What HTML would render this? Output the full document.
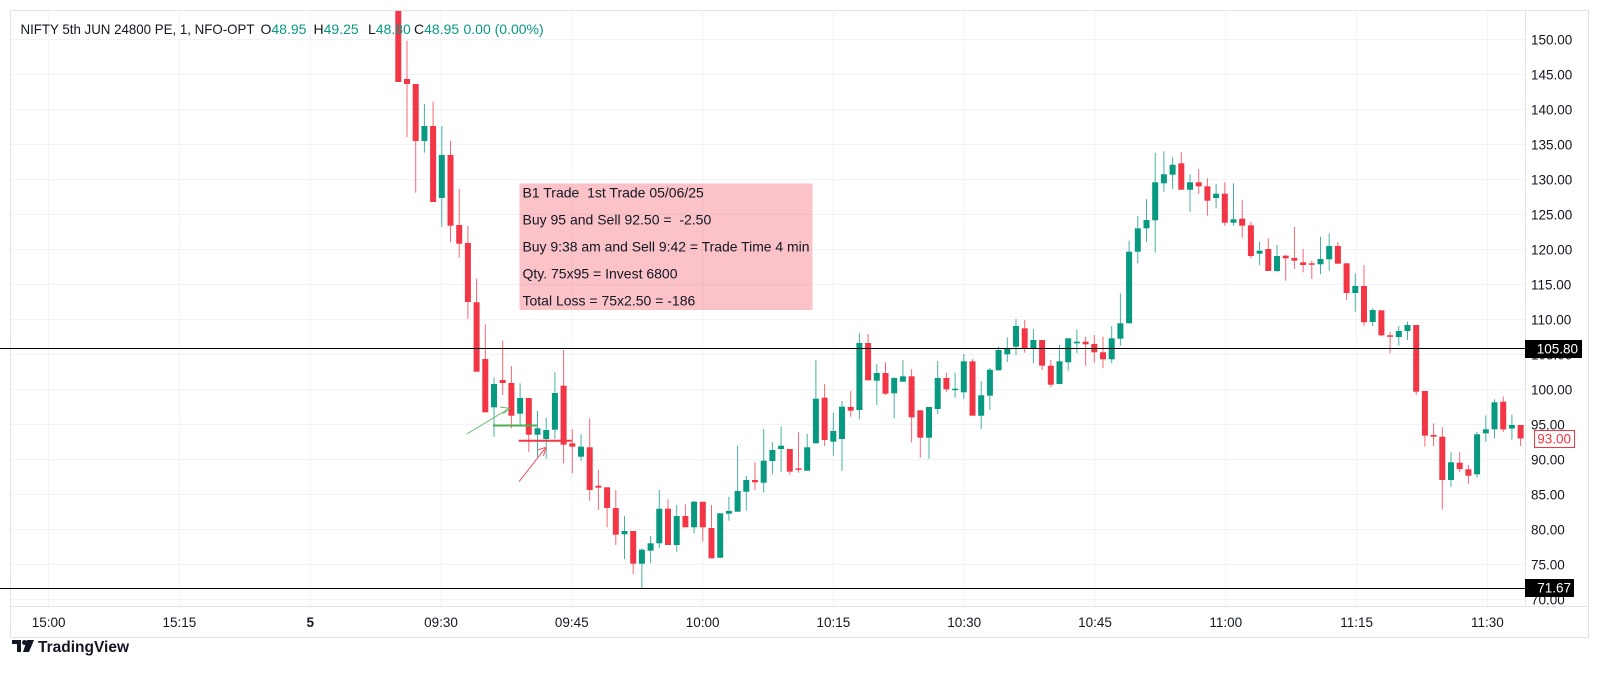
<!DOCTYPE html>
<html><head><meta charset="utf-8">
<style>
html,body{margin:0;padding:0;background:#fff;}
svg{display:block;font-family:"Liberation Sans",sans-serif;}
</style></head>
<body>
<svg id="s" width="1600" height="679" viewBox="0 0 1600 679" xmlns="http://www.w3.org/2000/svg">
<rect x="0" y="0" width="1600" height="679" fill="#fff"/>
<rect x="10.5" y="10.5" width="1578" height="627" fill="none" stroke="#e0e3eb"/>
<g id="grid"></g>
<line x1="1525.5" y1="11" x2="1525.5" y2="606" stroke="#e0e3eb"/>
<line x1="11" y1="606.5" x2="1588" y2="606.5" stroke="#e0e3eb"/>
<rect x="519.5" y="183.5" width="293" height="126.5" fill="#f23645" fill-opacity="0.3"/>
<g font-size="14" fill="#131722">
<text x="522.5" y="197.5">B1 Trade&#160; 1st Trade 05/06/25</text>
<text x="522.5" y="224.5">Buy 95 and Sell 92.50 =&#160; -2.50</text>
<text x="522.5" y="251.5" textLength="287" lengthAdjust="spacingAndGlyphs">Buy 9:38 am and Sell 9:42 = Trade Time 4 min</text>
<text x="522.5" y="278.5">Qty. 75x95 = Invest 6800</text>
<text x="522.5" y="305.5">Total Loss = 75x2.50 = -186</text>
</g>
<defs><clipPath id="cp"><rect x="11" y="11" width="1514" height="595"/></clipPath></defs>
<g id="candles" clip-path="url(#cp)"></g>
<g>
<line x1="466.7" y1="434" x2="509" y2="408.5" stroke="#66bb6a" stroke-width="1"/>
<polyline points="500,407 509.5,408.3 503,414" fill="none" stroke="#66bb6a" stroke-width="1"/>
<line x1="493" y1="425.5" x2="537" y2="425.5" stroke="#4caf50" stroke-width="2"/>
<line x1="519" y1="481.7" x2="545.5" y2="447.8" stroke="#f7525f" stroke-width="1"/>
<polyline points="537.5,450 546,447.3 543.5,456" fill="none" stroke="#f7525f" stroke-width="1"/>
<line x1="518.7" y1="440.7" x2="571.7" y2="440.7" stroke="#f23645" stroke-width="2"/>
</g>
<line x1="0" y1="348.5" x2="1525" y2="348.5" stroke="#000" stroke-width="1"/>
<line x1="0" y1="588.5" x2="1525" y2="588.5" stroke="#000" stroke-width="1"/>
<g id="axis" font-size="13.5" fill="#131722"></g>
<rect x="1525" y="340" width="57" height="18" fill="#000"/>
<text x="1578" y="353.5" font-size="13.5" fill="#fff" text-anchor="end">105.80</text>
<rect x="1525" y="579" width="49" height="18" fill="#000"/>
<text x="1571" y="592.5" font-size="13.5" fill="#fff" text-anchor="end">71.67</text>
<rect x="1534.5" y="430.5" width="40" height="17" fill="#fff" stroke="#f23645"/>
<text x="1571" y="443.5" font-size="13.5" fill="#f23645" text-anchor="end">93.00</text>
<g font-size="14" fill="#131722">
<text x="20.5" y="34" textLength="234" lengthAdjust="spacingAndGlyphs">NIFTY 5th JUN 24800 PE, 1, NFO-OPT</text>
<text x="260.5" y="34">O<tspan fill="#089981">48.95</tspan></text>
<text x="313.5" y="34">H<tspan fill="#089981">49.25</tspan></text>
<text x="368" y="34">L<tspan fill="#089981">48.80</tspan></text>
<text x="414" y="34">C<tspan fill="#089981">48.95</tspan></text>
<text x="463.5" y="34" fill="#089981">0.00 (0.00%)</text>
</g>
<g transform="translate(12,640)">
<path d="M0 0 H9 V12 H5 V4 H0 Z" fill="#131722"/>
<circle cx="12.5" cy="2.5" r="2.5" fill="#131722"/>
<path d="M15 0 H22 L17 12 H11 Z" fill="#131722"/>
</g>
<text x="38" y="652" font-size="15.5" fill="#131722" font-weight="bold">TradingView</text>
</svg>
<script>
(function(){
var D=[[5,82,0,82],[79,84,40.7,137],[84,141,84,192.7],[141,126,104,152.7],[126,202,101.7,202],[198,155,126,226.7],[155,225.7,141,242],[225,243.7,189,257.7],[243,302,226,319],[302.3,371.7,278.5,371.7],
[359,412.3,324.3,412.3],[407.3,384,377.3,436.7],[380,383,340.7,395],[383,415.7,366,428.3],[413.7,398,383.3,426],[398,434.7,398,452.3],[434.7,428.3,411,458.3],[439,430,417.7,458.7],[429.7,393,372.3,439],[385.7,444.7,350,463.3],
[443.3,446.7,429.3,473.3],[456.7,446.7,434.3,460.7],[447.3,490,418.3,500.7],[485.7,487.7,470,510],[487.3,508,487.3,527.3],[508,534.7,490,545],[534.3,531,516,559.3],[531,563.7,531,574],[563.7,549.7,548.3,588.3],[550.7,543.3,536,563.3],
[543.3,508.7,490,548.3],[508.7,545,499.3,545],[545,516,505,551.7],[516,527.3,504.3,527.3],[527.3,501.7,500.7,533.3],[501.7,527.3,501.7,541.7],[528,558.3,505,558.3],[557.7,513.3,513.3,557.7],[513.7,511,496.7,520.7],[511.7,491,445.7,511.7],
[491.7,480,476,510.7],[480,482.3,462.3,490],[482.7,460.7,429,492.7],[461,450,442.3,474.3],[449,445.7,426.7,472],[449,471.7,449,475],[468.3,469.3,432.3,472.7],[470.7,447.3,434,470.7],[443.3,398.7,360,443.3],[397.7,440,384,446],
[441.7,431,412.7,455.7],[439,406.7,401,471],[407,410.7,391,416.7],[410,343,333.3,419.3],[343,380.3,334,380.3],[380.7,373,364,405],[373,393.7,362.3,395],[393.3,378,377.3,418.3],[381.7,376.3,360,381.7],[376.3,417.3,369,442.3],
[410.3,437.7,410.3,457.7],[437.7,407,407,458.7],[409,378,361,414],[378,389.3,372.7,391.7],[389.3,388.7,372.7,397.7],[392.3,361.3,354,399],[361.3,415.7,359.3,415.7],[415.7,395.3,381,429],[395.7,369.7,368,410],[370.3,350,346.7,370.3],
[354.3,348.3,337.3,362],[346.7,326,319,355],[328.3,348.3,320,352.7],[348.3,340,329.3,363.3],[340,365.7,340,370],[365.7,384.7,360,387.3],[384,361.3,345,384.3],[362.3,338.3,338.3,370.7],[343.3,341.7,329.3,353.3],[341.7,344.3,336.7,365.7],
[344,352.3,335,362.7],[352.3,359.3,336.7,368.3],[359.3,338.3,326,363.3],[338.7,323.3,293.3,345.7],[323.3,251.7,240.7,323.3],[251.7,228.3,216,263.3],[228.3,220,199.3,242],[220.3,182.3,152.7,252.7],[183.3,174.3,151.3,191.7],[174.7,164.7,157.3,189],
[163.3,189.7,152.3,189.7],[189.7,182.3,174.3,211.7],[182.3,186.3,169.3,194],[186.3,200.7,178.3,215.7],[198,193.7,183.7,208.3],[193.7,222.7,182.3,225.7],[222.7,219.3,183.3,225.7],[218.7,225.7,200,237.7],[225.3,256,221.7,258.3],[253.7,250.7,241.7,265.3],
[249,271,238.3,271],[271,256,245,272.3],[255.7,258.3,255,280.7],[258,260.7,226.7,269],[262.3,265,249,272.3],[263.3,264.7,260.7,279],[264.3,259,236.7,274.3],[259.3,246,233.3,270.7],[246,263.7,242.3,263.7],[263.3,293,263.3,300],
[293,286,273.3,311.7],[286,322.3,265,325.7],[322,310,308.3,326],[310.3,335.3,310.3,336.3],[335.3,336.7,331.7,353.3],[337,331,326,345.7],[331,325,321.7,340],[325,391.7,325,395],[391,435.7,391,446.7],[435,436.7,423.3,446],
[436.7,480,427.3,509.3],[480,462.3,452.3,486.7],[462.7,469,452.3,472.3],[469.3,475.7,465,484],[474.3,434.3,431.7,477.7],[433.3,429.3,415.3,441.7],[429.3,402.3,399.3,438.3],[401.7,429.4,396.5,432],[428.6,425,414.7,439.8],[425,438.5,425,446]];
var NS="http://www.w3.org/2000/svg";
function el(p,t,a,txt){var e=document.createElementNS(NS,t);for(var kk in a)e.setAttribute(kk,a[kk]);if(txt!==undefined)e.textContent=txt;p.appendChild(e);return e;}
var g=document.getElementById("candles"),gr=document.getElementById("grid"),ax=document.getElementById("axis");
for(var p=150;p>=70;p-=5){var yy=39.5+(150-p)*7.0;el(gr,"line",{x1:11,y1:yy,x2:1525,y2:yy,stroke:"#f0f3fa"});
 if(yy<604) el(ax,"text",{x:1531,y:yy+5},p.toFixed(2));}
var labs=["15:00","15:15","5","09:30","09:45","10:00","10:15","10:30","10:45","11:00","11:15","11:30"];
for(var k=0;k<12;k++){var xx=48.6+k*130.8;el(gr,"line",{x1:xx,y1:11,x2:xx,y2:606,stroke:"#f0f3fa"});
 var t=el(ax,"text",{x:xx,y:627,"text-anchor":"middle"},labs[k]);if(labs[k]=="5")t.setAttribute("font-weight","bold");}
for(var i=0;i<D.length;i++){var d=D[i],cx=398.3+i*8.70,up=d[1]<d[0],c=up?"#089981":"#f23645";
 var bt=Math.min(d[0],d[1]),bb=Math.max(d[0],d[1]);if(bb-bt<1.5){bb=bt+1.5;}
 el(g,"line",{x1:cx,y1:d[2],x2:cx,y2:d[3],stroke:c,"stroke-opacity":0.75,"stroke-width":1});
 el(g,"rect",{x:cx-3,y:bt,width:6,height:bb-bt,fill:c});}
})();
</script>
</body></html>
